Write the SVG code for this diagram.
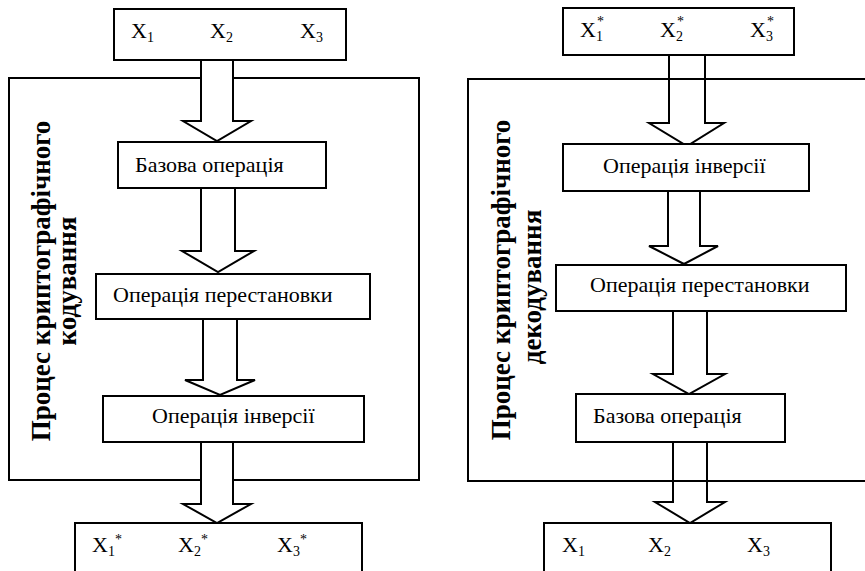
<svg xmlns="http://www.w3.org/2000/svg" width="865" height="571" viewBox="0 0 865 571">
<style>
  .box { fill: #fff; stroke: #000; stroke-width: 2; }
  .frame { fill: none; stroke: #000; stroke-width: 2; }
  .arrow { fill: #fff; stroke: #000; stroke-width: 2; stroke-linejoin: miter; }
  .t { font-family: 'Liberation Serif', 'Times New Roman', serif; font-size: 22px; fill: #000; }
  .s { font-size: 14px; }
  .v { font-family: 'Liberation Serif', 'Times New Roman', serif; font-size: 27px; font-weight: bold; fill: #000; text-anchor: middle; }
</style>
<rect width="865" height="571" fill="#fff"/>

<!-- LEFT: encoding -->
<g id="frame-left">
  <rect class="frame" x="9" y="78" width="410" height="402"/>
  <text class="v" transform="translate(50,281) rotate(-90)">Процес криптографічного</text>
  <text class="v" transform="translate(76,281) rotate(-90)">кодування</text>
</g>
<g id="connectors-left">
  <polygon class="arrow" points="201,60 233,60 233,121 251,121 217,141 183,121 201,121"/>
  <polygon class="arrow" points="201,188 235,188 235,251 254,251 218,272 182,251 201,251"/>
  <polygon class="arrow" points="203,319 237,319 237,380 255,380 220,395 185,380 203,380"/>
  <polygon class="arrow" points="201,442 233,442 233,504 251,504 217,523 183,504 201,504"/>
</g>
<g id="in-left">
  <rect class="box" x="114" y="9" width="232" height="51"/>
  <text class="t" x="131" y="38">X<tspan class="s" dy="4">1</tspan></text>
  <text class="t" x="210" y="38">X<tspan class="s" dy="4">2</tspan></text>
  <text class="t" x="300" y="38">X<tspan class="s" dy="4">3</tspan></text>
</g>
<g id="base-left">
  <rect class="box" x="118" y="142" width="208" height="46"/>
  <text class="t" x="135" y="172">Базова операція</text>
</g>
<g id="perm-left">
  <rect class="box" x="96" y="274" width="274" height="45"/>
  <text class="t" x="113" y="302">Операція перестановки</text>
</g>
<g id="inv-left">
  <rect class="box" x="103" y="396" width="261" height="46"/>
  <text class="t" x="152" y="423">Операція інверсії</text>
</g>
<g id="out-left">
  <rect class="box" x="75" y="523" width="287" height="60"/>
  <text class="t" x="92" y="552">X<tspan class="s" dy="4">1</tspan><tspan class="s" dy="-12">*</tspan></text>
  <text class="t" x="178" y="552">X<tspan class="s" dy="4">2</tspan><tspan class="s" dy="-12">*</tspan></text>
  <text class="t" x="277" y="552">X<tspan class="s" dy="4">3</tspan><tspan class="s" dy="-12">*</tspan></text>
</g>

<!-- RIGHT: decoding -->
<g id="connectors-right">
  <polygon class="arrow" points="669,55 705,55 705,123 724,123 687,146 649,123 669,123"/>
  <polygon class="arrow" points="668,191 700,191 700,246 718,246 684,264 649,246 668,246"/>
  <polygon class="arrow" points="673,311 707,311 707,374 725,374 689,394 653,374 673,374"/>
  <polygon class="arrow" points="673,442 707,442 707,502 725,502 690,523 655,502 673,502"/>
</g>
<g id="frame-right">
  <rect class="frame" x="468" y="79" width="410" height="402"/>
  <text class="v" transform="translate(510,280) rotate(-90)">Процес криптографічного</text>
  <text class="v" transform="translate(541,287) rotate(-90)">декодування</text>
</g>
<g id="in-right">
  <rect class="box" x="563" y="8" width="231" height="47"/>
  <text class="t" x="580" y="37">X<tspan class="s" dy="4">1</tspan><tspan class="s" x="597" dy="-15" font-size="12">*</tspan></text>
  <text class="t" x="660" y="37">X<tspan class="s" dy="4">2</tspan><tspan class="s" x="677" dy="-15" font-size="12">*</tspan></text>
  <text class="t" x="750" y="37">X<tspan class="s" dy="4">3</tspan><tspan class="s" x="767" dy="-15" font-size="12">*</tspan></text>
</g>
<g id="inv-right">
  <rect class="box" x="563" y="144" width="246" height="47"/>
  <text class="t" x="603" y="173">Операція інверсії</text>
</g>
<g id="perm-right">
  <rect class="box" x="556" y="265" width="290" height="46"/>
  <text class="t" x="590" y="292">Операція перестановки</text>
</g>
<g id="base-right">
  <rect class="box" x="576" y="394" width="209" height="48"/>
  <text class="t" x="593" y="423">Базова операція</text>
</g>
<g id="out-right">
  <rect class="box" x="544" y="523" width="287" height="60"/>
  <text class="t" x="562" y="552">X<tspan class="s" dy="4">1</tspan></text>
  <text class="t" x="648" y="552">X<tspan class="s" dy="4">2</tspan></text>
  <text class="t" x="747" y="552">X<tspan class="s" dy="4">3</tspan></text>
</g>
</svg>
